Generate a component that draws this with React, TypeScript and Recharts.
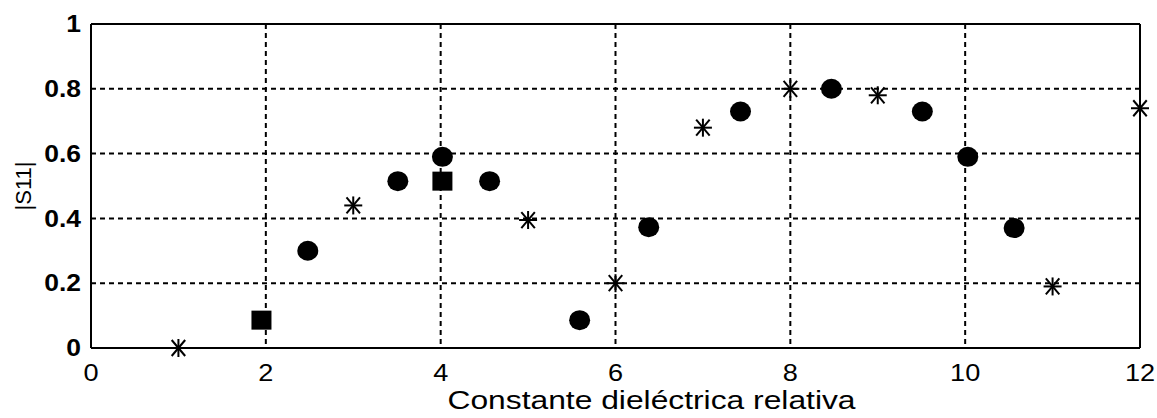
import {
  ScatterChart,
  Scatter,
  XAxis,
  YAxis,
  CartesianGrid,
  ReferenceLine,
  Label,
} from "recharts";

const xTicks = [0, 2, 4, 6, 8, 10, 12];
const yTicks = [0, 0.2, 0.4, 0.6, 0.8, 1];

const starX = [1, 3, 5, 6, 7, 8, 9, 11, 12];
const starY = [0, 0.44, 0.395, 0.2, 0.68, 0.8, 0.78, 0.19, 0.74];

const squareX = [1.95, 4.02];
const squareY = [0.086, 0.515];

const circleX = [2.48, 3.51, 4.02, 4.56, 5.59, 6.38, 7.43, 8.47, 9.51, 10.03, 10.56];
const circleY = [0.3, 0.515, 0.59, 0.515, 0.086, 0.373, 0.73, 0.8, 0.73, 0.59, 0.37];

const toPoints = (xs: number[], ys: number[]) => xs.map((x, i) => ({ x, y: ys[i] }));

const FONT = "'Liberation Sans', Arial, sans-serif";

function CircleMark({ cx, cy }: any) {
  return <ellipse cx={cx} cy={cy} rx={10.5} ry={10} fill="#000" />;
}

function SquareMark({ cx, cy }: any) {
  return <rect x={cx - 10} y={cy - 9.5} width={20} height={19} fill="#000" />;
}

function StarMark({ cx, cy }: any) {
  const w = 9;
  const h = 8;
  return (
    <g stroke="#000" strokeWidth={2}>
      <line x1={cx - w} y1={cy} x2={cx + w} y2={cy} />
      <line x1={cx} y1={cy - h - 1} x2={cx} y2={cy + h + 1} />
      <line x1={cx - w * 0.75} y1={cy - h} x2={cx + w * 0.75} y2={cy + h} />
      <line x1={cx - w * 0.75} y1={cy + h} x2={cx + w * 0.75} y2={cy - h} />
    </g>
  );
}

function XTick({ x, y, payload }: any) {
  return (
    <text
      transform={`translate(${x},${y}) scale(1.18,1)`}
      textAnchor="middle"
      dy="0.71em"
      fontSize={23}
      fontFamily={FONT}
      fill="#000"
    >
      {payload.value}
    </text>
  );
}

function YTick({ x, y, payload }: any) {
  return (
    <text
      transform={`translate(${x},${y}) scale(1.15,1)`}
      textAnchor="end"
      dy="0.355em"
      fontSize={23}
      fontFamily={FONT}
      fontWeight="bold"
      fill="#000"
    >
      {payload.value}
    </text>
  );
}

export default function App() {
  return (
    <div style={{ position: "absolute", left: 0, top: 0, background: "#fff" }}>
      <ScatterChart
        width={1157}
        height={418}
        margin={{ top: 24, right: 17, left: 0, bottom: 0 }}
      >
        <CartesianGrid
          stroke="#000"
          strokeWidth={2}
          strokeDasharray="5 4"
          horizontalValues={yTicks}
          verticalValues={xTicks}
        />
        <XAxis
          type="number"
          dataKey="x"
          domain={[0, 12]}
          ticks={xTicks}
          height={70}
          tickLine={false}
          tickMargin={11}
          tick={<XTick />}
          axisLine={{ stroke: "#000", strokeWidth: 2 }}
        >
          <Label
            value="Constante dieléctrica relativa"
            content={({ viewBox }: any) => (
              <text
                x={viewBox.x + viewBox.width / 2 + 36}
                y={viewBox.y + viewBox.height - 9}
                textAnchor="middle"
                fontSize={25}
                fontFamily={FONT}
                fill="#000"
                textLength={408}
                lengthAdjust="spacingAndGlyphs"
              >
                Constante dieléctrica relativa
              </text>
            )}
          />
        </XAxis>
        <YAxis
          type="number"
          dataKey="y"
          domain={[0, 1]}
          ticks={yTicks}
          width={91}
          tickLine={false}
          tickMargin={4}
          tick={<YTick />}
          axisLine={{ stroke: "#000", strokeWidth: 2 }}
        >
          <Label
            value="|S11|"
            content={({ viewBox }: any) => {
              const cx = 23;
              const cy = viewBox.y + viewBox.height / 2;
              return (
                <text
                  x={cx}
                  y={cy}
                  transform={`rotate(-90, ${cx}, ${cy})`}
                  textAnchor="middle"
                  dy="0.36em"
                  fontSize={22}
                  fontFamily={FONT}
                  fill="#000"
                >
                  |S11|
                </text>
              );
            }}
          />
        </YAxis>
        <ReferenceLine y={1} stroke="#000" strokeWidth={2} />
        <ReferenceLine x={12} stroke="#000" strokeWidth={2} />
        <Scatter data={toPoints(starX, starY)} shape={<StarMark />} isAnimationActive={false} />
        <Scatter data={toPoints(squareX, squareY)} shape={<SquareMark />} isAnimationActive={false} />
        <Scatter data={toPoints(circleX, circleY)} shape={<CircleMark />} isAnimationActive={false} />
      </ScatterChart>
    </div>
  );
}
